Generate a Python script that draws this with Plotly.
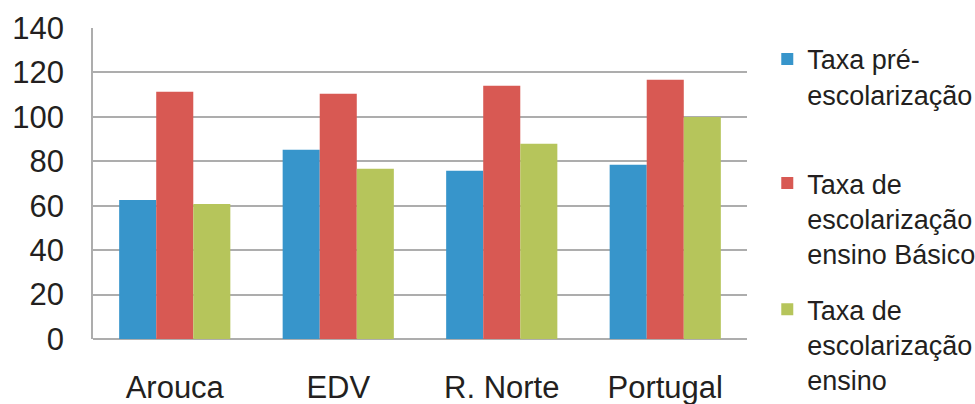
import plotly.graph_objects as go

categories = ["Arouca", "EDV", "R. Norte", "Portugal"]
pre_escolar = [62.6, 85.2, 75.7, 78.4]
basico = [111.3, 110.4, 114.0, 116.7]
secundario = [60.8, 76.6, 87.9, 99.9]
series_names = [
    "Taxa pré-<br>escolarização",
    "Taxa de<br>escolarização<br>ensino Básico",
    "Taxa de<br>escolarização<br>ensino<br>secundário",
]
y_ticks = [0, 20, 40, 60, 80, 100, 120, 140]

colors = ["#3795CB", "#D85953", "#B6C55B"]
FONT = "Liberation Sans, Arial, sans-serif"
TXT = "#231F20"

fig = go.Figure()
for vals, name, col, lg in zip([pre_escolar, basico, secundario], series_names, colors,
                               ["legend", "legend2", "legend3"]):
    fig.add_trace(go.Bar(x=categories, y=vals, name=name, marker_color=col,
                         marker_line_width=0, legend=lg))

legend_common = dict(font=dict(family=FONT, size=27, color=TXT), valign="top",
                     bgcolor="rgba(0,0,0,0)", xanchor="left", yanchor="top",
                     itemclick=False, itemdoubleclick=False)

fig.update_layout(
    width=975, height=404,
    margin=dict(l=93, r=228, t=28, b=65, autoexpand=False),
    paper_bgcolor="white", plot_bgcolor="white",
    barmode="group", bargap=0.32, bargroupgap=0,
    font=dict(family=FONT, color=TXT),
    showlegend=True,
    legend=dict(x=1.031, y=0.978, **legend_common),
    legend2=dict(x=1.031, y=0.579, **legend_common),
    legend3=dict(x=1.031, y=0.173, **legend_common),
    xaxis=dict(showgrid=False, showline=False, ticks="outside", ticklen=21, automargin=False,
               tickcolor="rgba(0,0,0,0)", tickfont=dict(size=31, color=TXT, family=FONT)),
    yaxis=dict(range=[0, 140], tickvals=y_ticks, ticktext=[str(v) for v in y_ticks],
               showgrid=True, gridcolor="#ADADAD", gridwidth=1.5, automargin=False,
               zeroline=True, zerolinecolor="#ADADAD", zerolinewidth=2,
               showline=True, linecolor="#ADADAD", linewidth=1.5,
               ticks="outside", ticklen=21, tickcolor="rgba(0,0,0,0)",
               tickfont=dict(size=31, color=TXT, family=FONT)),
)

fig.write_html("out.html", config={"displayModeBar": False},
               post_script="document.body.style.margin='0';document.body.style.overflow='hidden';")
